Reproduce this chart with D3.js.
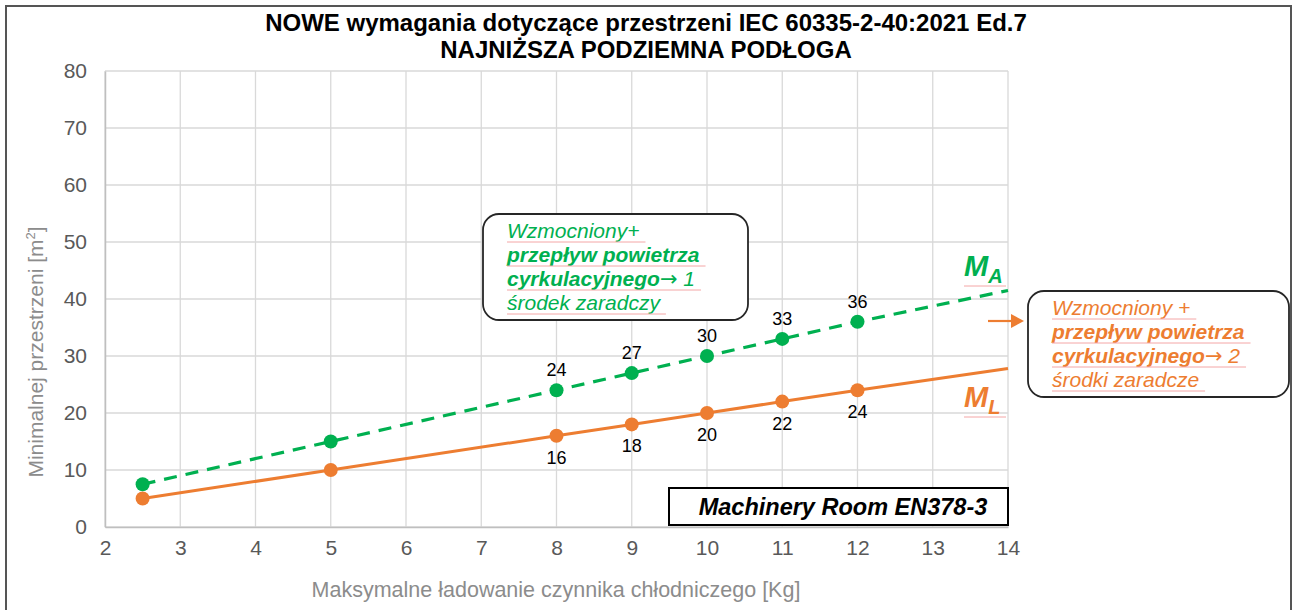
<!DOCTYPE html>
<html>
<head>
<meta charset="utf-8">
<script src="https://cdn.jsdelivr.net/npm/d3@7"></script>
<style>
  body { margin: 0; background: #fff; }
  svg { font-family: "Liberation Sans", Arial, sans-serif; }
</style>
</head>
<body>
<svg id="chart" width="1292" height="610"></svg>
<script>
// data
const charge = [2.5, 5, 8, 9, 10, 11, 12];          // kg
const areaMA = [7.5, 15, 24, 27, 30, 33, 36];        // m2, green dashed
const areaML = [5, 10, 16, 18, 20, 22, 24];          // m2, orange solid
const labelFrom = 2;                                 // labels only from 8 kg on
const lineEnd = { x: 14, ma: 41.5, ml: 27.8 };       // lines run on to the right edge
const xTicks = [2, 3, 4, 5, 6, 7, 8, 9, 10, 11, 12, 13, 14];
const yTicks = [0, 10, 20, 30, 40, 50, 60, 70, 80];

const green = "#00b050", orange = "#ed7d31";

const svg = d3.select("#chart");
const margin = { top: 71, right: 284, bottom: 83, left: 105 };
const W = 1292, H = 610;

const x = d3.scaleLinear().domain([2, 14]).range([margin.left, W - margin.right]);
const y = d3.scaleLinear().domain([0, 80]).range([H - margin.bottom, margin.top]);

// outer frame
svg.append("path")
  .attr("d", `M6,${H} V6 H1291 V${H}`)
  .attr("fill", "none").attr("stroke", "#555").attr("stroke-width", 2);

// title
const title = svg.append("text").attr("text-anchor", "middle")
  .attr("font-weight", "bold").attr("font-size", 24).attr("fill", "#000");
title.append("tspan").attr("x", 646).attr("y", 31)
  .text("NOWE wymagania dotyczące przestrzeni IEC 60335-2-40:2021 Ed.7");
title.append("tspan").attr("x", 646).attr("y", 58)
  .text("NAJNIŻSZA PODZIEMNA PODŁOGA");

// gridlines
svg.append("g").selectAll("line").data(xTicks).join("line")
  .attr("x1", d => x(d)).attr("x2", d => x(d))
  .attr("y1", y(0)).attr("y2", y(80))
  .attr("stroke", "#d9d9d9").attr("stroke-width", 1.3);
svg.append("g").selectAll("line").data(yTicks).join("line")
  .attr("x1", x(2)).attr("x2", x(14))
  .attr("y1", d => y(d)).attr("y2", d => y(d))
  .attr("stroke", "#d9d9d9").attr("stroke-width", 1.3);

// axes
const xAxis = svg.append("g").attr("transform", `translate(0,${y(0)})`)
  .call(d3.axisBottom(x).tickValues(xTicks).tickSize(0).tickPadding(13).tickFormat(d3.format("d")));
const yAxis = svg.append("g").attr("transform", `translate(${x(2)},0)`)
  .call(d3.axisLeft(y).tickValues(yTicks).tickSize(0).tickPadding(18));
[xAxis, yAxis].forEach(a => {
  a.select(".domain").attr("stroke", "#bfbfbf").attr("stroke-width", 1.5);
  a.selectAll("text").attr("font-size", 21).attr("fill", "#595959")
    .attr("font-family", "Liberation Sans, Arial, sans-serif");
});

// axis titles
svg.append("text").attr("x", 556).attr("y", 597).attr("text-anchor", "middle")
  .attr("font-size", 21.5).attr("fill", "#8c8c8c")
  .text("Maksymalne ładowanie czynnika chłodniczego [Kg]");
const yt = svg.append("text").attr("transform", "translate(43,352) rotate(-90)")
  .attr("text-anchor", "middle").attr("font-size", 21).attr("fill", "#8c8c8c");
yt.append("tspan").text("Minimalnej przestrzeni  [m");
yt.append("tspan").attr("font-size", 13).attr("dy", -8).text("2");
yt.append("tspan").attr("dy", 8).text("]");

// lines
const line = d3.line().x(d => x(d[0])).y(d => y(d[1]));
const maPts = charge.map((c, i) => [c, areaMA[i]]).concat([[lineEnd.x, lineEnd.ma]]);
const mlPts = charge.map((c, i) => [c, areaML[i]]).concat([[lineEnd.x, lineEnd.ml]]);

svg.append("path").datum(mlPts).attr("d", line)
  .attr("fill", "none").attr("stroke", orange).attr("stroke-width", 3);
svg.append("path").datum(maPts).attr("d", line)
  .attr("fill", "none").attr("stroke", green).attr("stroke-width", 3.2)
  .attr("stroke-dasharray", "13,9");

// markers
svg.append("g").selectAll("circle").data(charge).join("circle")
  .attr("cx", d => x(d)).attr("cy", (d, i) => y(areaML[i])).attr("r", 7)
  .attr("fill", orange);
svg.append("g").selectAll("circle").data(charge).join("circle")
  .attr("cx", d => x(d)).attr("cy", (d, i) => y(areaMA[i])).attr("r", 7)
  .attr("fill", green);

// data labels
svg.append("g").selectAll("text").data(charge.slice(labelFrom)).join("text")
  .attr("x", d => x(d)).attr("y", (d, i) => y(areaMA[i + labelFrom]) - 14)
  .attr("text-anchor", "middle").attr("font-size", 18).attr("fill", "#000")
  .text((d, i) => areaMA[i + labelFrom]);
svg.append("g").selectAll("text").data(charge.slice(labelFrom)).join("text")
  .attr("x", d => x(d)).attr("y", (d, i) => y(areaML[i + labelFrom]) + 28)
  .attr("text-anchor", "middle").attr("font-size", 18).attr("fill", "#000")
  .text((d, i) => areaML[i + labelFrom]);

// series names M_A / M_L
function seriesName(px, py, sub, color) {
  const t = svg.append("text").attr("x", px).attr("y", py)
    .attr("font-size", 29).attr("font-weight", "bold").attr("font-style", "italic").attr("fill", color);
  t.append("tspan").text("M");
  t.append("tspan").attr("font-size", 20).attr("dy", 7).text(sub);
  svg.append("line").attr("x1", px).attr("x2", px + 42).attr("y1", py + 10).attr("y2", py + 10)
    .attr("stroke", "#f4a6a6").attr("stroke-width", 1);
}
seriesName(964, 276, "A", green);
seriesName(964, 407, "L", orange);

// callout boxes
function callout(bx, by, bw, bh, lines, color) {
  svg.append("rect").attr("x", bx).attr("y", by).attr("width", bw).attr("height", bh)
    .attr("rx", 16).attr("fill", "#fff").attr("stroke", "#262626").attr("stroke-width", 1.8);
  lines.forEach((ln, i) => {
    const ty = by + 24 + i * 24;
    const t = svg.append("text").attr("x", bx + 24).attr("y", ty)
      .attr("font-size", 21).attr("font-style", "italic").attr("fill", color);
    ln.forEach(p => t.append("tspan").attr("font-weight", p.b ? "bold" : "normal")
      .attr("font-family", p.a ? "DejaVu Sans, sans-serif" : null)
      .attr("font-style", p.a ? "normal" : null).text(p.t));
    const w = t.node().getComputedTextLength();
    svg.append("line").attr("x1", bx + 24).attr("x2", bx + 24 + w + 6)
      .attr("y1", ty + 4).attr("y2", ty + 4).attr("stroke", "#f4a6a6").attr("stroke-width", 1);
  });
}
callout(483, 214, 265, 106, [
  [{ t: "Wzmocniony+" }],
  [{ t: "przepływ powietrza", b: true }],
  [{ t: "cyrkulacyjnego", b: true }, { t: "→", a: true }, { t: " 1" }],
  [{ t: "środek zaradczy" }]
], green);
callout(1028, 291, 261, 106, [
  [{ t: "Wzmocniony +" }],
  [{ t: "przepływ powietrza", b: true }],
  [{ t: "cyrkulacyjnego", b: true }, { t: "→", a: true }, { t: " 2" }],
  [{ t: "środki zaradcze" }]
], orange);

// arrow to the orange box
svg.append("line").attr("x1", 988).attr("x2", 1012).attr("y1", 321).attr("y2", 321)
  .attr("stroke", orange).attr("stroke-width", 2.2);
svg.append("path").attr("d", "M1011,314 L1024,321 L1011,328 Z").attr("fill", orange);

// Machinery Room label
svg.append("rect").attr("x", 669).attr("y", 488).attr("width", 339).attr("height", 37)
  .attr("fill", "#fff").attr("stroke", "#000").attr("stroke-width", 2);
svg.append("text").attr("x", 843).attr("y", 515).attr("text-anchor", "middle")
  .attr("font-size", 23.5).attr("font-weight", "bold").attr("font-style", "italic").attr("fill", "#000")
  .text("Machinery Room EN378-3");
</script>
</body>
</html>
